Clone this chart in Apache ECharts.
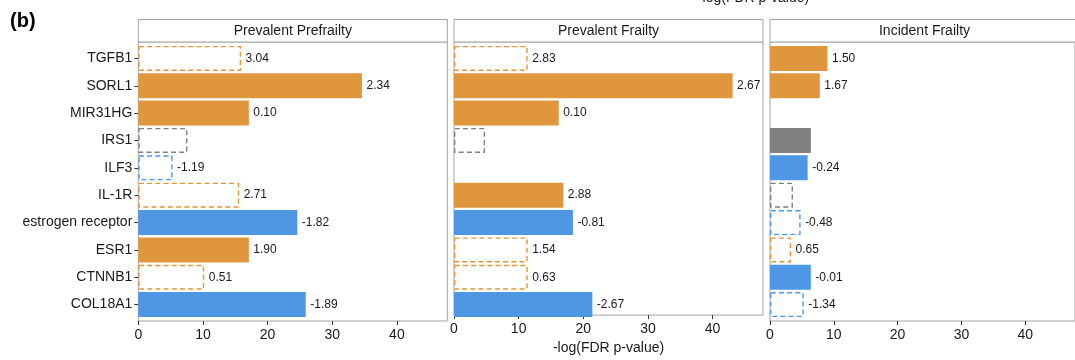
<!DOCTYPE html>
<html><head><meta charset="utf-8">
<script src="https://cdn.jsdelivr.net/npm/echarts@6/dist/echarts.min.js"></script>
<style>html,body{margin:0;padding:0;background:#fff}#c{width:1075px;height:360px}</style>
</head><body><div id="c"></div>
<script>
// ---- data ----
const categories = ['TGFB1','SORL1','MIR31HG','IRS1','ILF3','IL-1R','estrogen receptor','ESR1','CTNNB1','COL18A1'];
const panelTitles = ['Prevalent Prefrailty','Prevalent Frailty','Incident Frailty'];
const xTicks = [0, 10, 20, 30, 40];
const xMax = 47.8;
const axisTitle = '-log(FDR p-value)';

const prefrailtyValues = [15.9, 34.6, 17.1, 7.6, 5.3, 15.6, 24.6, 17.1, 10.2, 25.9];
const prefrailtyLabels = ['3.04','2.34','0.10','','-1.19','2.71','-1.82','1.90','0.51','-1.89'];
const prefrailtyFilled = [false,true,true,false,false,false,true,true,false,true];
const prefrailtyDir = ['up','up','up','none','down','up','down','up','up','down'];

const frailtyValues = [11.4, 43.1, 16.2, 4.8, null, 16.9, 18.4, 11.4, 11.4, 21.4];
const frailtyLabels = ['2.83','2.67','0.10','','','2.88','-0.81','1.54','0.63','-2.67'];
const frailtyFilled = [false,true,true,false,false,true,true,false,false,true];
const frailtyDir = ['up','up','up','none','none','up','down','up','up','down'];

const incidentValues = [9.0, 7.8, null, 6.4, 5.9, 3.6, 4.8, 3.3, 6.4, 5.3];
const incidentLabels = ['1.50','1.67','','','-0.24','','-0.48','0.65','-0.01','-1.34'];
const incidentFilled = [true,true,false,true,true,false,false,false,true,false];
const incidentDir = ['up','up','none','none','down','none','down','up','down','down'];

// ---- styling / layout ----
const FONT = '"Liberation Sans", Arial, Helvetica, sans-serif';
const dirColor = { up: '#E0963C', down: '#4E97E4', none: '#808080' };
const borderCol = '#A3A3A3';
const panelLeft = [138.3, 454, 770];
const panelW = 309, panelTop = 42, panelH = 279;
const band = panelH / 10.2;
const innerTop = panelTop + 0.1 * band, innerH = band * 10;

const panels = [
  { values: prefrailtyValues, labels: prefrailtyLabels, filled: prefrailtyFilled, dir: prefrailtyDir },
  { values: frailtyValues, labels: frailtyLabels, filled: frailtyFilled, dir: frailtyDir },
  { values: incidentValues, labels: incidentLabels, filled: incidentFilled, dir: incidentDir }
];

const grid = [], xAxis = [], yAxis = [], series = [], graphic = [];

panels.forEach((p, i) => {
  const L = panelLeft[i];
  grid.push({ left: L, top: panelTop, width: panelW, height: panelH, show: true,
    borderColor: borderCol, borderWidth: 1, backgroundColor: 'transparent', containLabel: false });
  grid.push({ left: L, top: innerTop, width: panelW, height: innerH, show: false, containLabel: false });
  const fg = 2 * i, dg = 2 * i + 1;
  xAxis.push({
    gridIndex: fg, type: 'value', min: 0, max: xMax,
    axisLine: { show: false },
    axisTick: { show: true, customValues: xTicks, length: 4, lineStyle: { color: '#333', width: 1 } },
    axisLabel: { customValues: xTicks, fontSize: 14, color: '#1a1a1a', fontFamily: FONT, margin: 7 },
    splitLine: { show: false },
    name: i === 1 ? axisTitle : '', nameLocation: 'middle', nameGap: 22,
    nameTextStyle: { fontSize: 14, color: '#1a1a1a', fontFamily: FONT }
  });
  xAxis.push({ gridIndex: dg, type: 'value', min: 0, max: xMax, show: false });
  yAxis.push({ gridIndex: fg, type: 'value', min: 0, max: 1, show: false });
  yAxis.push({
    gridIndex: dg, type: 'category', inverse: true, data: categories,
    axisLine: { show: false },
    axisTick: { show: i === 0, alignWithLabel: true, length: 4, lineStyle: { color: '#333', width: 1 } },
    axisLabel: { show: i === 0, fontSize: 14, color: '#1a1a1a', fontFamily: FONT, margin: 6 },
    splitLine: { show: false }
  });
  series.push({
    type: 'bar', xAxisIndex: dg, yAxisIndex: dg, barWidth: 25,
    data: p.values.map((v, k) => {
      const col = dirColor[p.dir[k]];
      const item = { value: v == null ? '-' : v };
      item.itemStyle = p.filled[k]
        ? { color: col, borderColor: col, borderWidth: 0 }
        : { color: 'rgba(255,255,255,0)', borderColor: col, borderWidth: 1.4, borderType: [5, 3.2] };
      item.label = { show: p.labels[k] !== '', formatter: p.labels[k] };
      return item;
    }),
    label: { position: 'right', distance: 4.5, fontSize: 12, color: '#1a1a1a', fontFamily: FONT },
    silent: true, animation: false
  });
  graphic.push({ type: 'rect', shape: { x: L, y: 19.5, width: panelW, height: 22.5 },
    style: { fill: '#fff', stroke: borderCol, lineWidth: 1 }, z: 10 });
  graphic.push({ type: 'text', x: L + panelW / 2, y: 31,
    style: { text: panelTitles[i], align: 'center', verticalAlign: 'middle',
      font: '14px ' + FONT, fill: '#1a1a1a' }, z: 11 });
});

graphic.push({ type: 'text', x: 10, y: 21,
  style: { text: '(b)', align: 'left', verticalAlign: 'middle', font: 'bold 20px ' + FONT, fill: '#000' } });
graphic.push({ type: 'text', x: 753.5, y: 5,
  style: { text: axisTitle, align: 'center', verticalAlign: 'bottom', font: '14px ' + FONT, fill: '#1a1a1a' } });

const chart = echarts.init(document.getElementById('c'), null, { renderer: 'canvas' });
chart.setOption({ animation: false, backgroundColor: '#fff', grid, xAxis, yAxis, series, graphic });
</script>
</body></html>
